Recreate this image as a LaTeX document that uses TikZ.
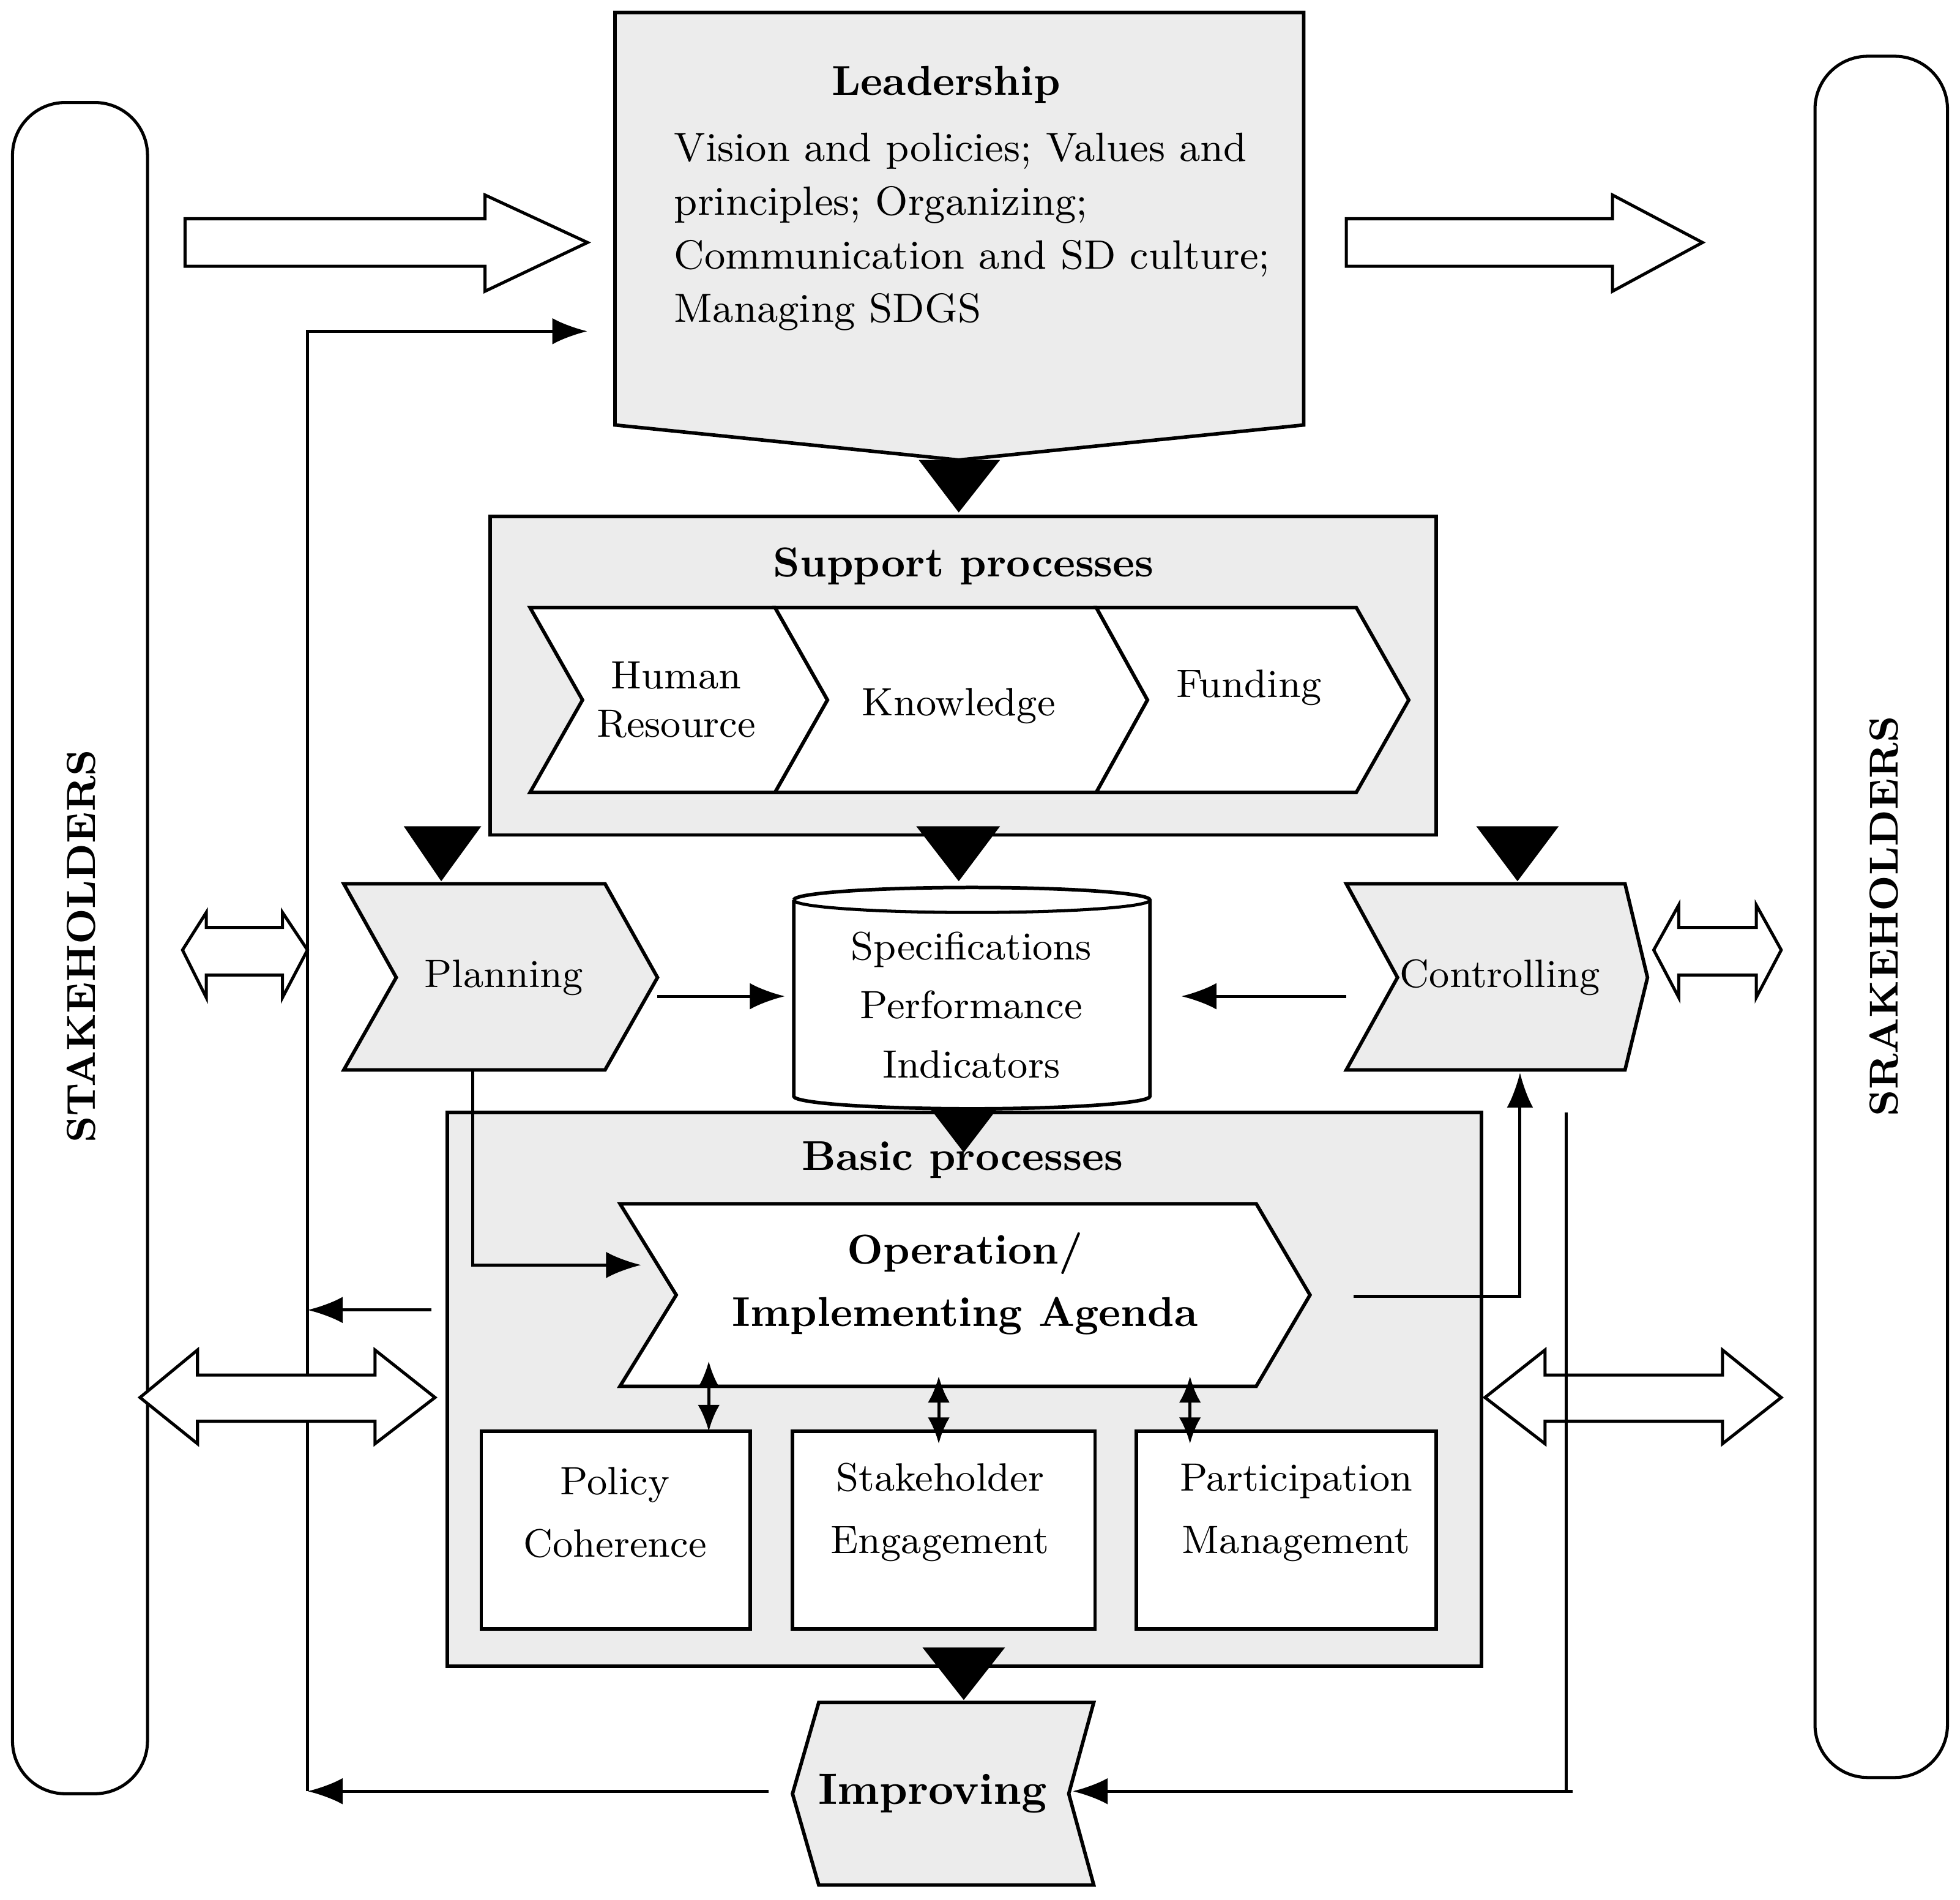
\documentclass[tikz,border=0pt]{standalone}
\usepackage{tikz}
\usetikzlibrary{shapes.geometric,arrows.meta}
\begin{document}
\begin{tikzpicture}[x=0.01cm,y=-0.01cm,
 gbox/.style={draw,fill=gray!15,line width=0.8pt},
 wbox/.style={draw,fill=white,line width=0.8pt},
 tri/.style={fill=black},
 ln/.style={line width=0.7pt},
 arr/.style={ln,-{Latex[length=8pt,width=6pt]}},
 darr/.style={ln,{Latex[length=6pt,width=5pt]}-{Latex[length=6pt,width=5pt]}},
 hol/.style={draw,fill=white,line width=0.7pt},
 txt/.style={font=\fontsize{9}{11}\selectfont,align=center},
 btxt/.style={font=\fontsize{9.5}{11}\selectfont\bfseries,align=center}]
\useasboundingbox (0,0) rectangle (1568,1520);
% stakeholders
\draw[ln,rounded corners=12pt] (10,82) rectangle (118,1435);
\node[btxt,rotate=90,font=\fontsize{9.2}{11}\selectfont\bfseries] (sl) at (65,757) {STAKEHOLDERS};
\draw[ln,rounded corners=12pt] (1452,45) rectangle (1558,1422);
\node[btxt,rotate=90,font=\fontsize{9.2}{11}\selectfont\bfseries] (sr) at (1507,733) {SRAKEHOLDERS};
% leadership
\draw[gbox] (492,10)--(1043,10)--(1043,340)--(767,368)--(492,340)--cycle;
\node[btxt] (lead) at (757,68) {Leadership};
\node[txt,align=left,anchor=north west,font=\fontsize{9.3}{12.2}\selectfont] (ltxt) at (527,94) {Vision and policies; Values and\\principles; Organizing;\\Communication and SD culture;\\Managing SDGS};
\fill[tri] (735,368)--(800,368)--(767,410)--cycle;
% hollow arrows top
\draw[hol] (148,175)--(388,175)--(388,156)--(470,194)--(388,233)--(388,213)--(148,213)--cycle;
\draw[hol] (1077,175)--(1290,175)--(1290,156)--(1362,194)--(1290,233)--(1290,213)--(1077,213)--cycle;
% support
\draw[gbox] (392,413) rectangle (1149,668);
\node[btxt] (sp) at (771,453) {Support processes};
\draw[wbox] (424,486)--(620,486)--(662,560)--(620,634)--(424,634)--(466,560)--cycle;
\draw[wbox] (620,486)--(877,486)--(918,560)--(877,634)--(620,634)--(662,560)--cycle;
\draw[wbox] (877,486)--(1085,486)--(1127,560)--(1085,634)--(877,634)--(918,560)--cycle;
\node[txt] (hr) at (541,560) {Human\\Resource};
\node[txt] (kn) at (767,565) {Knowledge};
\node[txt] (fu) at (999,550) {Funding};
\fill[tri] (323,661)--(385,661)--(353,705)--cycle;
\fill[tri] (733,661)--(800,661)--(767,705)--cycle;
\fill[tri] (1181,661)--(1247,661)--(1214,705)--cycle;
% planning, controlling
\draw[gbox] (275,707)--(484,707)--(526,782)--(484,856)--(275,856)--(317,782)--cycle;
\node[txt] (pl) at (403,782) {Planning};
\draw[gbox] (1077,707)--(1300,707)--(1318,782)--(1300,856)--(1077,856)--(1118,782)--cycle;
\node[txt] (co) at (1200,782) {Controlling};
% cylinder
\draw[wbox] (635,720)--(635,877) arc[x radius=142.5,y radius=10,start angle=180,end angle=0]--(920,720) arc[x radius=142.5,y radius=10,start angle=0,end angle=-180];
\draw[ln] (635,720) arc[x radius=142.5,y radius=10,start angle=180,end angle=0];
\node[txt,font=\fontsize{9}{13.4}\selectfont] (cyl) at (777,804) {Specifications\\Performance\\Indicators};
\coordinate (pa) at (526,797); \coordinate (pb) at (628,797);
\draw[arr] (pa)--(pb);
\coordinate (ca) at (1077,797); \coordinate (cb) at (945,797);
\draw[arr] (ca)--(cb);
% small double hollow arrows
\draw[hol] (146,760)--(165,730)--(165,742)--(226,742)--(226,730)--(246,760)--(226,798)--(226,780)--(165,780)--(165,798)--cycle;
\draw[hol] (1323,760)--(1343,724)--(1343,742)--(1405,742)--(1405,724)--(1425,760)--(1405,798)--(1405,780)--(1343,780)--(1343,798)--cycle;
% basic
\draw[gbox] (358,890) rectangle (1185,1333);
\fill[tri] (745,888)--(797,888)--(771,922)--cycle;
\node[btxt] (bp) at (770,928) {Basic processes};
\draw[wbox] (496,963)--(1005,963)--(1048,1036)--(1005,1109)--(496,1109)--(541,1036)--cycle;
\node[btxt,font=\fontsize{9.5}{14.2}\selectfont\bfseries] (op) at (772,1027) {Operation/\\Implementing Agenda};
\draw[wbox] (385,1145) rectangle (600,1303);
\draw[wbox] (634,1145) rectangle (876,1303);
\draw[wbox] (909,1145) rectangle (1149,1303);
\node[txt,font=\fontsize{9}{14.2}\selectfont] (pc) at (492,1210) {Policy\\Coherence};
\node[txt,font=\fontsize{9}{14.2}\selectfont] (se) at (752,1210) {Stakeholder\\Engagement};
\node[txt,font=\fontsize{9}{14.2}\selectfont] (pm) at (1037,1210) {Participation\\Management};
\coordinate (d1a) at (567,1089); \coordinate (d1b) at (567,1145);
\coordinate (d2a) at (751,1101); \coordinate (d2b) at (751,1155);
\coordinate (d3a) at (952,1101); \coordinate (d3b) at (952,1155);
\draw[darr] (d1a)--(d1b); \draw[darr] (d2a)--(d2b); \draw[darr] (d3a)--(d3b);
% lines
\coordinate (p1) at (378,856); \coordinate (p2) at (378,1012); \coordinate (p3) at (513,1012);
\draw[arr] (p1)--(p2)--(p3);
\coordinate (o1) at (1083,1037); \coordinate (o2) at (1216,1037); \coordinate (o3) at (1216,858);
\draw[arr] (o1)--(o2)--(o3);
\coordinate (l1) at (246,1433); \coordinate (l2) at (246,265); \coordinate (l3) at (470,265);
\draw[arr] (l1)--(l2)--(l3);
\coordinate (m1) at (345,1048); \coordinate (m2) at (246,1048);
\draw[arr] (m1)--(m2);
% big hollow double arrows
\draw[hol] (112,1118)--(158,1080)--(158,1100)--(300,1100)--(300,1080)--(348,1118)--(300,1155)--(300,1137)--(158,1137)--(158,1155)--cycle;
\draw[hol] (1188,1118)--(1236,1080)--(1236,1100)--(1378,1100)--(1378,1080)--(1425,1118)--(1378,1155)--(1378,1137)--(1236,1137)--(1236,1155)--cycle;
\coordinate (r1) at (1253,890); \coordinate (r2) at (1253,1433); \coordinate (r0) at (1258,1433); \coordinate (r3) at (858,1433);
\draw[ln] (r1)--(r2);
\draw[arr] (r0)--(r3);
% improving
\fill[tri] (738,1318)--(804,1318)--(771,1360)--cycle;
\draw[gbox] (655,1362)--(875,1362)--(855,1435)--(875,1508)--(655,1508)--(634,1435)--cycle;
\node[btxt,font=\fontsize{10}{12}\selectfont\bfseries] (imp) at (746,1435) {Improving};
\coordinate (i1) at (615,1433); \coordinate (i2) at (246,1433);
\draw[arr] (i1)--(i2);
\end{tikzpicture}
\end{document}
